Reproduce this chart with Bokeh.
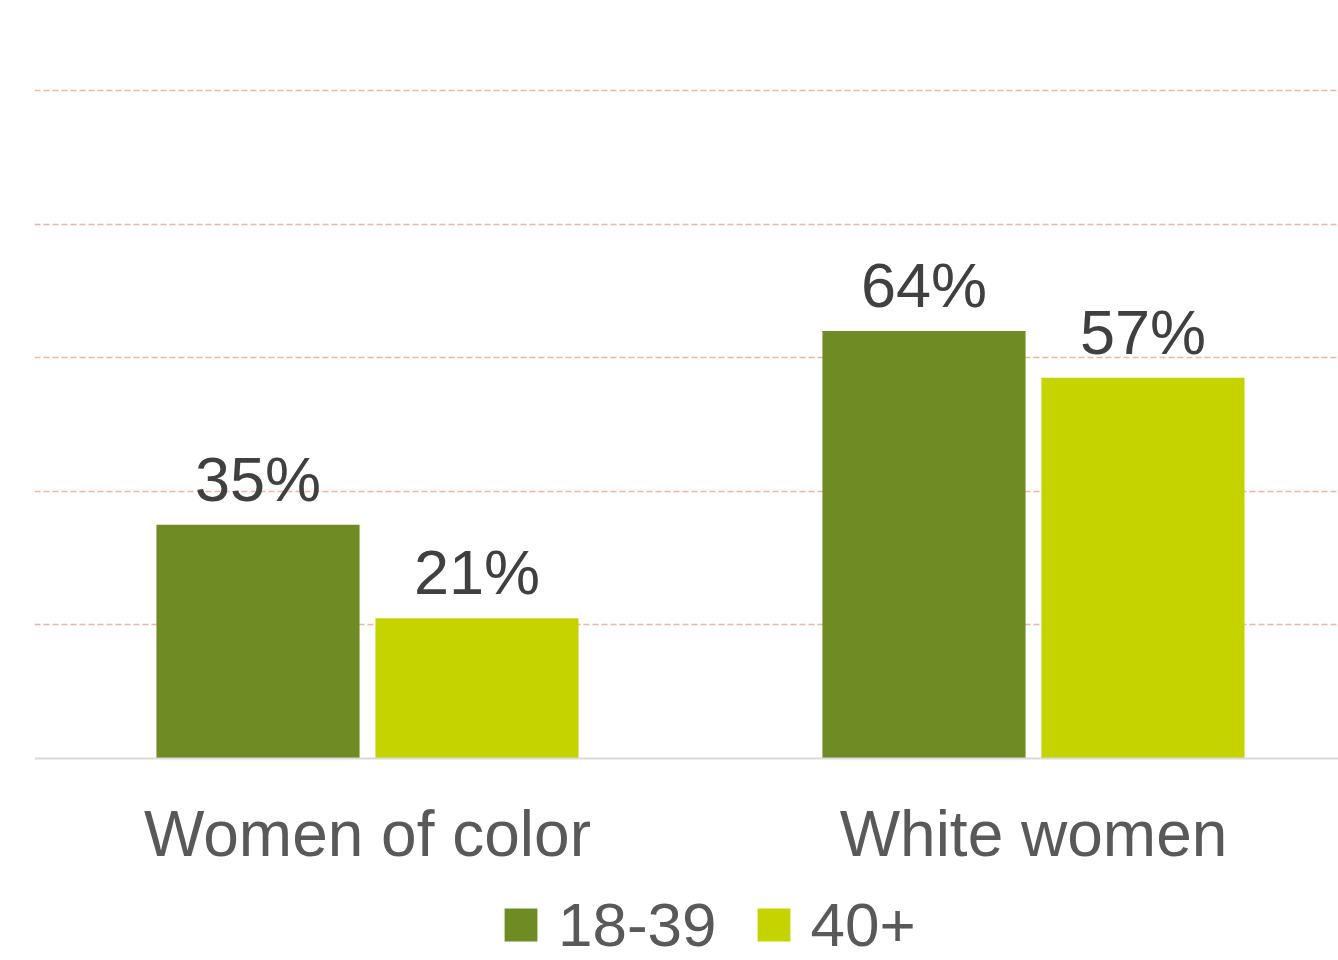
from bokeh.plotting import figure
from bokeh.models import ColumnDataSource, Range1d, FixedTicker, Legend, LegendItem, Span
from bokeh.transform import dodge
from bokeh.core.properties import value
from bokeh.embed import file_html
from bokeh.resources import INLINE

categories = ["Women of color", "White women"]
series_names = ["18-39", "40+"]
age_18_39 = [35, 64]
age_40_plus = [21, 57]
grid_ticks = [20, 40, 60, 80, 100]

colors = ["#6e8b24", "#c5d300"]
FONT = "Liberation Sans"

xs = list(range(len(categories)))
src = ColumnDataSource(dict(
    x=xs,
    zero=[0] * len(xs),
    cat=categories,
    a=age_18_39,
    b=age_40_plus,
    a_lbl=[f"{v}%" for v in age_18_39],
    b_lbl=[f"{v}%" for v in age_40_plus],
))

W, H = 1338, 960
top, left = 60, 34
base_px = 758  # screen y of the zero line
px_per_pct = 6.68
y_end = (base_px - top) / px_per_pct
y_start = -(H - base_px) / px_per_pct
p = figure(width=W, height=H, output_backend="svg", toolbar_location=None,
           x_range=Range1d(-0.5, 1.458), y_range=Range1d(y_start, y_end),
           min_border_top=top, min_border_bottom=0, min_border_left=left,
           min_border_right=0)
p.outline_line_color = None
p.background_fill_color = "white"
p.border_fill_color = "white"
p.xaxis.visible = False
p.yaxis.visible = False
p.xgrid.visible = False
p.ygrid.ticker = FixedTicker(ticks=grid_ticks)
p.ygrid.grid_line_color = "#f4b2a0"
p.ygrid.grid_line_dash = "6 3"
p.ygrid.grid_line_width = 1.5

p.add_layout(Span(location=0, dimension="width", line_color="#d9d9d9", line_width=2))

off = 0.1644
bw = 0.305
r1 = p.vbar(x=dodge("x", -off), top="a", width=bw, source=src, fill_color=colors[0], line_color=None)
r2 = p.vbar(x=dodge("x", off), top="b", width=bw, source=src, fill_color=colors[1], line_color=None)

for col, lbl, d in [("a", "a_lbl", -off), ("b", "b_lbl", off)]:
    p.text(x=dodge("x", d), y=col, text=lbl, source=src, text_align="center",
           text_baseline="alphabetic", y_offset=-46, text_font=value(FONT),
           text_font_size="63px", text_color="#404040")

# category labels
p.text(x="x", y="zero", text="cat", source=src, text_align="center",
       text_baseline="alphabetic", y_offset=75, text_font=value(FONT),
       text_font_size="64px", text_color="#595959")

legend = Legend(items=[LegendItem(label=series_names[0], renderers=[r1]),
                       LegendItem(label=series_names[1], renderers=[r2])],
                orientation="horizontal", location=(466, 0),
                glyph_width=41, glyph_height=41, label_standoff=17, spacing=36,
                padding=0, margin=0, border_line_color=None, background_fill_alpha=0,
                label_text_font=FONT, label_text_font_size="62px", label_text_color="#595959")
p.add_layout(legend, "center")

open("out.html", "w").write(file_html(p, INLINE))
